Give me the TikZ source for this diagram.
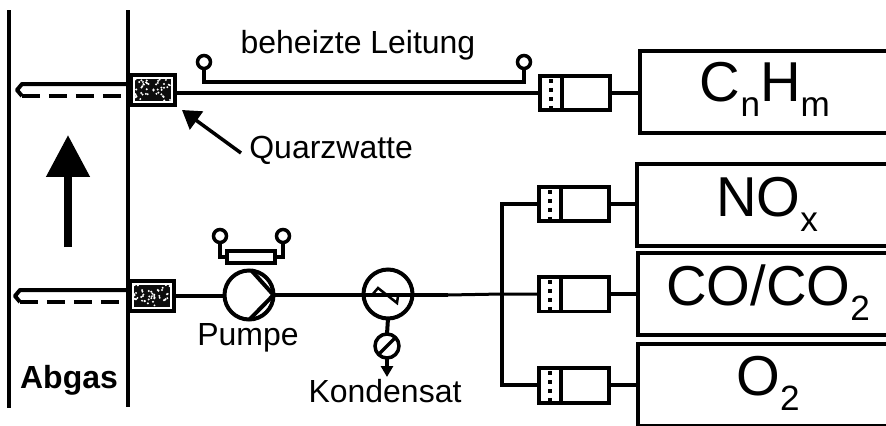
\documentclass[tikz,border=0pt]{standalone}
\usepackage{fontspec}
\setmainfont{Liberation Sans}
\usetikzlibrary{arrows.meta}
\newcommand{\lowtxt}[1]{\raisebox{-.27em}{\fontsize{20}{20}\selectfont #1}}
\tikzset{
  pipe/.style={line width=.08cm},
  bigtxt/.style={font=\fontsize{32}{34}\selectfont},
  smalltxt/.style={font=\fontsize{18.2}{20}\selectfont, inner sep=0pt},
  analyser/.style={draw, pipe, rectangle, inner sep=0pt, outer sep=0pt, minimum width=5.12cm, minimum height=1.66cm, bigtxt},
  messzelle/.style={draw, pipe, rectangle, inner sep=0pt, outer sep=0pt, fill=white, minimum width=1.42cm, minimum height=.7cm},
  watte/.style={draw, pipe, rectangle, inner sep=0pt, outer sep=0pt, fill=white, minimum width=.9cm, minimum height=.6cm},
  rund/.style={draw, pipe, circle, inner sep=0pt, outer sep=0pt, fill=white},
  geber/.style={rund, line width=.07cm, minimum size=.26cm}
}
\begin{document}
\begin{tikzpicture}[x=.02cm, y=-.02cm]
  \useasboundingbox (0,0) rectangle (886,426);
  %%% exhaust duct
  \draw[pipe] (9,10) -- (9,408);
  \draw[pipe] (128,10) -- (128,407);
  \draw[line width=.16cm, -{Triangle[width=.84cm, length=.84cm]}] (68,247) -- (68,135);
  \node[smalltxt, font=\fontsize{18.2}{20}\selectfont\bfseries] (abgas) at (69,380) {Abgas};

  %%% analysers, cut off by the page edge
  \node[analyser] (cnhm) at (896,92) [anchor=east] {};
  \node[analyser, minimum height=1.66cm] (nox) at (893,205) [anchor=east] {};
  \node[analyser] (coco) at (894,294) [anchor=east] {};
  \node[analyser] (otwo) at (894,385) [anchor=east] {};
  \node[bigtxt, inner sep=0pt] (cnhmtxt) at (765,89) {C\lowtxt{n}H\lowtxt{m}};
  \node[bigtxt, inner sep=0pt] (noxtxt) at (767,204) {NO\lowtxt{x}};
  \node[bigtxt, inner sep=0pt] (cocotxt) at (768,293) {CO/CO\lowtxt{2}};
  \node[bigtxt, inner sep=0pt] (otwotxt) at (768,383) {O\lowtxt{2}};

  %%% measuring cells
  \foreach \name/\xx/\yy in {zelleA/575/93, zelleB/574/204, zelleC/574/294, zelleD/574/385} {
    \node[messzelle] (\name) at (\xx,\yy) {};
    \draw[pipe] (\xx-13,\yy-17) -- (\xx-13,\yy+17);
    \draw[line width=.08cm, dash pattern=on .08cm off .1cm] (\xx-24,\yy-14) -- (\xx-24,\yy+16);
  }
  \draw[pipe] (zelleA.east) -- (zelleA.east -| cnhm.west);
  \draw[pipe] (zelleB.east) -- (zelleB.east -| nox.west);
  \draw[pipe] (zelleC.east) -- (zelleC.east -| coco.west);
  \draw[pipe] (zelleD.east) -- (zelleD.east -| otwo.west);

  %%% quartz wool filters with probes
  \pgfmathsetseed{11}
  \foreach \name/\xx/\yy/\tip in {watteA/153/90/17, watteB/152/296/15} {
    \node[watte] (\name) at (\xx,\yy) {};
    \fill[black!95] (\xx-18,\yy-11) rectangle (\xx+18,\yy+11);
    \foreach \i in {1,...,45} {
      \fill[white] (\xx-18+36*rnd,\yy-11+22*rnd) circle (.022cm);
    }
    \draw[pipe, line join=round] (\xx-23,\yy-6) -- (\tip+5,\yy-6) -- (\tip,\yy) -- (\tip+5,\yy+6);
    \draw[pipe, dash pattern=on .36cm off .18cm] (\tip+5,\yy+6) -- (\xx-23,\yy+6);
  }

  %%% heated line
  \node[geber] (geberA) at (204,62) {};
  \node[geber] (geberB) at (524,62) {};
  \coordinate (heizA) at (204,82);
  \coordinate (heizB) at (524,82);
  \draw[pipe] (geberA.south) -- (heizA) -- (heizB) -- (geberB.south);
  \draw[pipe] (zelleA.west -| watteA.east) -- (zelleA.west);
  \node[smalltxt] (leitung) at (358,45) {beheizte Leitung};
  \node[smalltxt, anchor=west] (quarz) at (249,150) {Quarzwatte};
  \draw[line width=.07cm, -{Triangle[width=.44cm, length=.36cm]}] (quarz.west) ++(-8,3) coordinate (quarzend) -- (182,110);

  %%% pump with bypass
  \node[rund, minimum size=.98cm] (pumpe) at (249,295) {};
  \draw[pipe, line join=miter] (251,270) -- (pumpe.east) -- (250,319);
  \draw[pipe] (watteB.east) -- (watteB.east -| pumpe.west);
  \node[rectangle, draw, pipe, inner sep=0pt, outer sep=0pt, minimum width=.98cm, minimum height=.24cm] (bypass) at (251,257) {};
  \node[geber] (geberC) at (220,236) {};
  \node[geber] (geberD) at (283,236) {};
  \draw[pipe] (geberC.south) |- (bypass.west);
  \draw[pipe] (geberD.south) |- (bypass.east);
  \node[smalltxt] (pumpetxt) at (248,338) {Pumpe};

  %%% cooler with condensate drain
  \node[rund, minimum size=.98cm] (kuehler) at (388,294) {};
  \coordinate (verteiler) at (502,294);
  \coordinate (dickende) at (448,295);
  \draw[pipe] (pumpe.east) -- (dickende);
  \draw[line width=.06cm] (dickende) -- (verteiler) -- (zelleC.west);
  \draw[line width=.05cm, line join=miter] (372,295) -- (378,288) -- (397,303) -- (398,296);
  \node[rund, line width=.07cm, minimum size=.48cm] (ablass) at (387,346) {};
  \draw[pipe] (kuehler.south) -- (ablass.north);
  \draw[line width=.07cm] (ablass.south west) -- (ablass.north east);
  \coordinate (ablassend) at (387,377);
  \draw[pipe, -{Triangle[width=.24cm, length=.22cm]}] (ablass.south) -- (ablassend);
  \node[smalltxt] (kondensat) at (385,391) {Kondensat};

  %%% manifold
  \draw[pipe] (zelleB.west) -| (verteiler) |- (zelleD.west);
\end{tikzpicture}
\end{document}
